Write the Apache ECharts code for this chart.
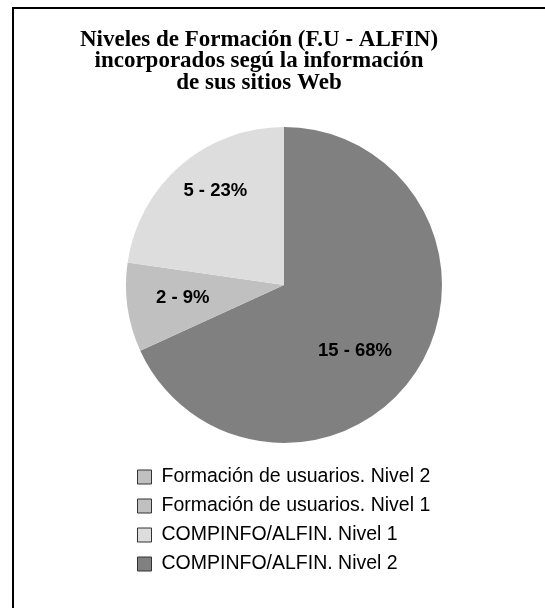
<!DOCTYPE html>
<html>
<head>
<meta charset="utf-8">
<script src="https://cdn.jsdelivr.net/npm/echarts@6/dist/echarts.min.js"></script>
<style>
  html, body { margin: 0; padding: 0; background: #fff; }
  #chart { width: 545px; height: 608px; }
</style>
</head>
<body>
<div id="chart"></div>
<script>
// data, in drawing order (clockwise from 12 o'clock)
var categories = ['COMPINFO/ALFIN. Nivel 2', 'Formación de usuarios. Nivel 1', 'COMPINFO/ALFIN. Nivel 1', 'Formación de usuarios. Nivel 2'];
var values = [15, 2, 5, 0];
var colors = ['#808080', '#c0c0c0', '#dddddd', '#c0c0c0'];
// legend order as in the picture
var legendOrder = ['Formación de usuarios. Nivel 2', 'Formación de usuarios. Nivel 1', 'COMPINFO/ALFIN. Nivel 1', 'COMPINFO/ALFIN. Nivel 2'];
// label nudges from the default inside position
var labelShift = [[2, 22], [-20, 1], [-15, -32], [0, 0]];

var chart = echarts.init(document.getElementById('chart'));

var pieData = categories.map(function (c, i) {
  return {
    name: c,
    value: values[i],
    itemStyle: { color: colors[i] },
    label: { show: values[i] > 0 }
  };
});

var option = {
  backgroundColor: '#fff',
  animation: false,
  title: {
    text: 'Niveles de Formación (F.U - ALFIN)\nincorporados segú la información\nde sus sitios Web',
    left: 254,
    top: 24,
    textAlign: 'center',
    textStyle: {
      fontFamily: 'Liberation Serif',
      fontWeight: 'bold',
      fontSize: 23,
      lineHeight: 21.5,
      color: '#000'
    }
  },
  legend: {
    orient: 'vertical',
    left: 132,
    top: 462,
    data: legendOrder,
    itemWidth: 14,
    itemHeight: 14,
    itemGap: 9,
    icon: 'rect',
    selectedMode: false,
    itemStyle: { borderColor: '#333', borderWidth: 1 },
    textStyle: {
      fontFamily: 'Liberation Sans',
      fontSize: 19.5,
      lineHeight: 19.5,
      color: '#000',
      padding: [0, 0, 0, 5]
    }
  },
  graphic: [{
    type: 'rect',
    shape: { x: 13, y: 8, width: 700, height: 700 },
    style: { fill: 'none', stroke: '#000', lineWidth: 2 },
    silent: true
  }],
  series: [{
    type: 'pie',
    center: [284, 285],
    radius: [0, 158],
    startAngle: 90,
    clockwise: true,
    avoidLabelOverlap: false,
    data: pieData,
    label: {
      position: 'inside',
      formatter: function (p) { return p.value + ' - ' + Math.round(p.percent) + '%'; },
      fontFamily: 'Liberation Sans',
      fontWeight: 'bold',
      fontSize: 18.5,
      color: '#000'
    },
    labelLine: { show: false },
    labelLayout: function (p) {
      var s = labelShift[p.dataIndex];
      return { dx: s[0], dy: s[1] };
    },
    emphasis: { disabled: true }
  }]
};

chart.setOption(option);
</script>
</body>
</html>
